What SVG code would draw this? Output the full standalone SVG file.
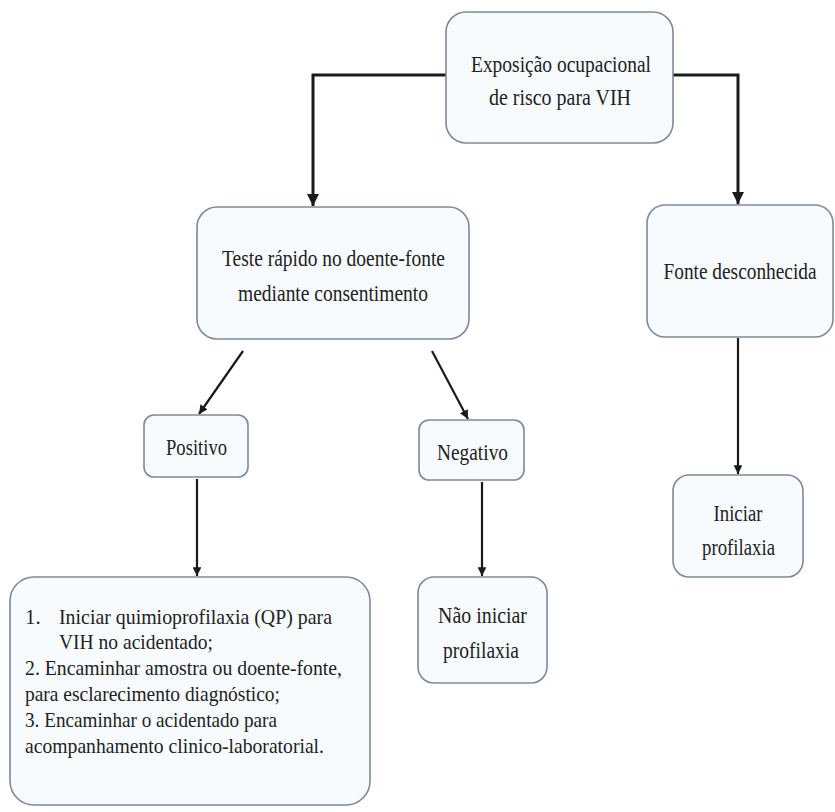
<svg xmlns="http://www.w3.org/2000/svg" width="835" height="812" viewBox="0 0 835 812">
<style>
.box{fill:#f8fbfe;stroke:#7d8a99;stroke-width:1.6}
text{font-family:Liberation Serif, Tinos, DejaVu Serif, Times New Roman, serif;fill:#222}
.t{font-size:23px;text-anchor:middle}
.s{font-size:21px}
.c{fill:none;stroke:#1a1a1a;stroke-width:2.2}
.c2{fill:none;stroke:#1a1a1a;stroke-width:3}
</style>
<defs>
<marker id="ah" viewBox="0 0 10 10" refX="10" refY="5" markerWidth="4" markerHeight="4" orient="auto" markerUnits="strokeWidth">
<path d="M0,0 L10,5 L0,10 z" fill="#1a1a1a"/>
</marker>
</defs>
<rect width="835" height="812" fill="#ffffff"/>
<g id="connectors">
<polyline class="c2" points="447,75 313,75 313,206" marker-end="url(#ah)"/>
<polyline class="c2" points="673,75 738,75 738,204" marker-end="url(#ah)"/>
<line class="c" x1="243" y1="351" x2="199" y2="414" marker-end="url(#ah)"/>
<line class="c" x1="432" y1="351" x2="468" y2="419" marker-end="url(#ah)"/>
<line class="c" x1="197" y1="479" x2="197" y2="576" marker-end="url(#ah)"/>
<line class="c" x1="482" y1="482" x2="482" y2="576" marker-end="url(#ah)"/>
<line class="c" x1="738" y1="338" x2="738" y2="474" marker-end="url(#ah)"/>
</g>
<g id="exposicao">
<rect class="box" x="446" y="12" width="227" height="131" rx="20"/>
<text class="t" x="561" y="72" textLength="180" lengthAdjust="spacingAndGlyphs">Exposição ocupacional</text>
<text class="t" x="560" y="105" textLength="142" lengthAdjust="spacingAndGlyphs">de risco para VIH</text>
</g>
<g id="teste">
<rect class="box" x="197" y="207" width="272" height="132" rx="20"/>
<text class="t" x="333.5" y="266" textLength="223" lengthAdjust="spacingAndGlyphs">Teste rápido no doente-fonte</text>
<text class="t" x="333" y="301" textLength="190" lengthAdjust="spacingAndGlyphs">mediante consentimento</text>
</g>
<g id="fonte">
<rect class="box" x="647" y="205" width="186" height="132" rx="18"/>
<text class="t" x="740" y="279" font-size="20" textLength="153" lengthAdjust="spacingAndGlyphs">Fonte desconhecida</text>
</g>
<g id="positivo">
<rect class="box" x="144" y="415" width="104" height="62" rx="10"/>
<text class="t" x="196.5" y="455" textLength="61" lengthAdjust="spacingAndGlyphs">Positivo</text>
</g>
<g id="negativo">
<rect class="box" x="419" y="420" width="105" height="60" rx="10"/>
<text class="t" x="472.5" y="460" textLength="71" lengthAdjust="spacingAndGlyphs">Negativo</text>
</g>
<g id="nao-iniciar">
<rect class="box" x="418" y="577" width="129" height="106" rx="16"/>
<text class="t" x="482.5" y="623" textLength="89" lengthAdjust="spacingAndGlyphs">Não iniciar</text>
<text class="t" x="481" y="658" textLength="76" lengthAdjust="spacingAndGlyphs">profilaxia</text>
</g>
<g id="iniciar">
<rect class="box" x="673" y="475" width="130" height="102" rx="16"/>
<text class="t" x="738" y="521" textLength="49" lengthAdjust="spacingAndGlyphs">Iniciar</text>
<text class="t" x="738.5" y="555" textLength="73" lengthAdjust="spacingAndGlyphs">profilaxia</text>
</g>
<g id="acoes">
<rect class="box" x="10" y="577" width="360" height="228" rx="24"/>
<text class="s" x="25" y="624">1.</text>
<text class="s" x="59" y="624" textLength="273" lengthAdjust="spacingAndGlyphs">Iniciar quimioprofilaxia (QP) para</text>
<text class="s" x="59" y="649" textLength="154" lengthAdjust="spacingAndGlyphs">VIH no acidentado;</text>
<text class="s" x="25" y="675" textLength="317" lengthAdjust="spacingAndGlyphs">2. Encaminhar amostra ou doente-fonte,</text>
<text class="s" x="25" y="701" textLength="255" lengthAdjust="spacingAndGlyphs">para esclarecimento diagnóstico;</text>
<text class="s" x="25" y="727" textLength="252" lengthAdjust="spacingAndGlyphs">3. Encaminhar o acidentado para</text>
<text class="s" x="25" y="753" textLength="299" lengthAdjust="spacingAndGlyphs">acompanhamento clinico-laboratorial.</text>
</g>
</svg>
